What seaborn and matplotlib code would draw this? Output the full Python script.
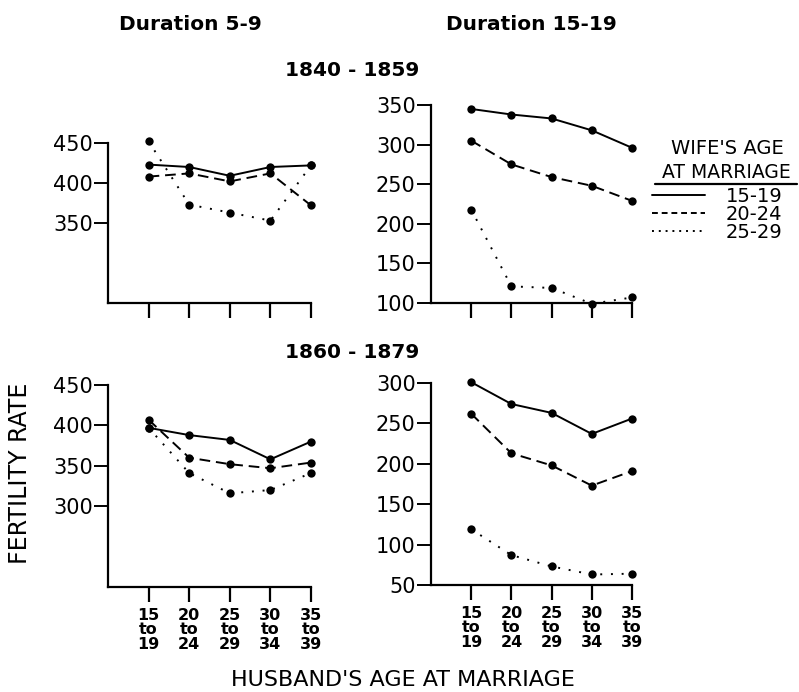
import numpy as np
import pandas as pd
import seaborn as sns
import matplotlib.pyplot as plt
from matplotlib.lines import Line2D

# husband's age at marriage groups (x axis)
husband_ages = ["15\nto\n19", "20\nto\n24", "25\nto\n29", "30\nto\n34", "35\nto\n39"]
wife_ages = ["15-19", "20-24", "25-29"]

# 1840-1859, duration 5-9
early_d5_w1519 = [423, 420, 409, 420, 422]
early_d5_w2024 = [408, 412, 402, 412, 372]
early_d5_w2529 = [452, 373, 363, 353, 422]
# 1840-1859, duration 15-19
early_d15_w1519 = [345, 338, 333, 318, 296]
early_d15_w2024 = [305, 275, 259, 248, 229]
early_d15_w2529 = [218, 121, 119, 99, 107]
# 1860-1879, duration 5-9
late_d5_w1519 = [397, 388, 382, 358, 380]
late_d5_w2024 = [407, 360, 352, 347, 354]
late_d5_w2529 = [397, 341, 316, 320, 341]
# 1860-1879, duration 15-19
late_d15_w1519 = [301, 274, 263, 237, 256]
late_d15_w2024 = [262, 213, 198, 173, 191]
late_d15_w2529 = [119, 87, 73, 63, 64]


def long_table(s1, s2, s3):
    rows = []
    for wa, vals in zip(wife_ages, [s1, s2, s3]):
        for i, v in enumerate(vals):
            rows.append({"pos": i + 1, "wife": wa, "rate": v})
    return pd.DataFrame(rows)


sns.set_style("ticks")
plt.rcParams['font.family'] = ['DejaVu Sans']
plt.rcParams['text.color'] = 'black'
plt.rcParams['xtick.color'] = 'black'
plt.rcParams['ytick.color'] = 'black'

fig = plt.figure(figsize=(7.99, 6.92), dpi=100)

W, H = 799, 692


def px_axes(x0, x1, y0, y1):
    return fig.add_axes([x0 / W, 1 - y1 / H, (x1 - x0) / W, (y1 - y0) / H])


dash_map = {"15-19": "", "20-24": (5.5, 3), "25-29": (1, 4.5)}
marker_map = {w: "o" for w in wife_ages}

panels = [
    (px_axes(108, 311, 143, 303), long_table(early_d5_w1519, early_d5_w2024, early_d5_w2529),
     (250, 450), [350, 400, 450], False),
    (px_axes(431, 632, 105, 303), long_table(early_d15_w1519, early_d15_w2024, early_d15_w2529),
     (100, 350), [100, 150, 200, 250, 300, 350], False),
    (px_axes(108, 311, 385, 587), long_table(late_d5_w1519, late_d5_w2024, late_d5_w2529),
     (200, 450), [300, 350, 400, 450], True),
    (px_axes(431, 632, 383, 585), long_table(late_d15_w1519, late_d15_w2024, late_d15_w2529),
     (50, 300), [50, 100, 150, 200, 250, 300], True),
]

for ax, df, ylim, yticks, show_x in panels:
    sns.lineplot(data=df, x="pos", y="rate", style="wife", dashes=dash_map,
                 markers=marker_map, color="black", linewidth=1.4,
                 markersize=6, markeredgewidth=0, ax=ax, legend=False)
    for ln in ax.lines:
        ln.set_clip_on(False)
    ax.set_xlim(0, 5)
    ax.set_ylim(*ylim)
    ax.set_yticks(yticks)
    ax.set_yticklabels([str(t) for t in yticks], fontsize=15)
    ax.set_xticks(range(1, 6))
    if show_x:
        ax.set_xticklabels(husband_ages, fontsize=11.5, fontweight="bold", linespacing=0.95)
    else:
        ax.set_xticklabels([])
    ax.set_xlabel("")
    ax.set_ylabel("")
    sns.despine(ax=ax)
    for s in ["left", "bottom"]:
        ax.spines[s].set_linewidth(1.6)
        ax.spines[s].set_color("black")
    ax.tick_params(axis="y", length=10, width=1.4, pad=1)
    ax.tick_params(axis="x", length=11, width=1.6, pad=4)

# titles
for x, y, s in [(190, 25, "Duration 5-9"), (531, 25, "Duration 15-19"),
                (352, 71, "1840 - 1859"), (352, 352, "1860 - 1879")]:
    fig.text(x / W, 1 - y / H, s, ha="center", va="center",
             fontsize=14.5, fontweight="bold")

fig.text(20 / W, 1 - 473 / H, "FERTILITY RATE", rotation=90, ha="center", va="center",
         fontsize=17)
fig.text(403 / W, 1 - 680 / H, "HUSBAND'S AGE AT MARRIAGE", ha="center", va="center",
         fontsize=16)

# legend
fig.text(727 / W, 1 - 149 / H, "WIFE'S AGE", ha="center", va="center", fontsize=14)
fig.text(726 / W, 1 - 172 / H, "AT MARRIAGE", ha="center", va="center", fontsize=13.5)
fig.add_artist(Line2D([655 / W, 797 / W], [1 - 184 / H, 1 - 184 / H], color="black", lw=1.6))

handles = [Line2D([], [], color="black", lw=1.4, linestyle="-"),
           Line2D([], [], color="black", lw=1.4, dashes=(3, 2)),
           Line2D([], [], color="black", lw=1.4, dashes=(1, 2.5))]
fig.legend(handles, wife_ages, loc="upper left",
           bbox_to_anchor=(652 / W, 1 - 187 / H), frameon=False, fontsize=14,
           handlelength=2.7, handletextpad=1.1, labelspacing=-0.05, borderpad=0,
           borderaxespad=0)

fig.savefig("out.png", dpi=100)
